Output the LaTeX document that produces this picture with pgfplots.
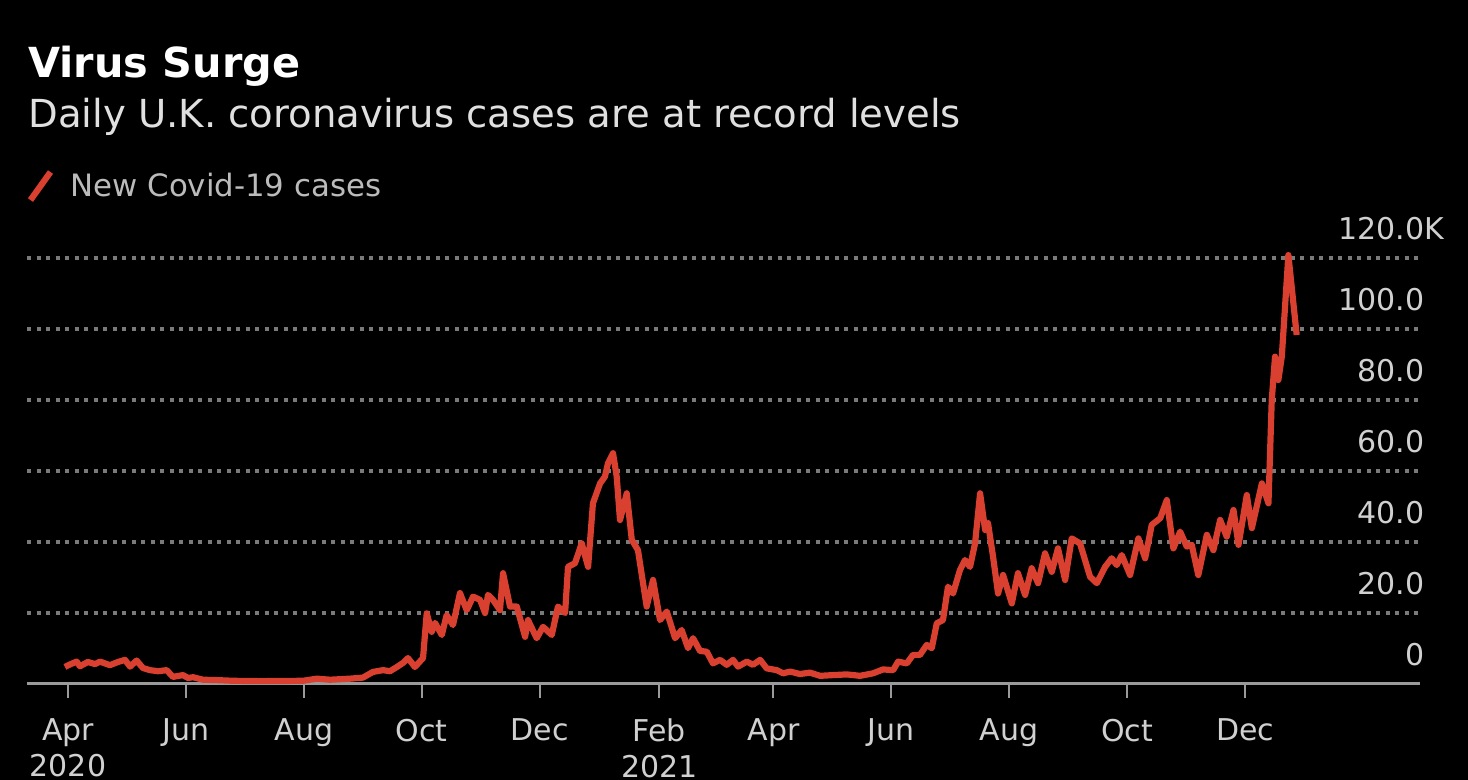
\documentclass[border=0pt]{standalone}
\usepackage{pgfplots}
\pgfplotsset{compat=1.18}
\usepackage{fontspec}
\setmainfont{DejaVu Sans}
\definecolor{cred}{HTML}{D9402F}
\definecolor{tick}{HTML}{D0D0D0}
\definecolor{grid}{HTML}{7A7A7A}
\definecolor{axl}{HTML}{9A9A9A}
\begin{document}
\begin{tikzpicture}
\useasboundingbox (0,0) rectangle (734pt,390pt);
\fill[black] (0,0) rectangle (734pt,390pt);
\node[anchor=base west, inner sep=0pt, text=white, font=\fontsize{20.7}{24}\selectfont\bfseries] at (14pt,351pt) {Virus Surge};
\node[anchor=base west, inner sep=0pt, text=white!88!black, font=\fontsize{19.3}{23}\selectfont] at (14pt,326pt) {Daily U.K. coronavirus cases are at record levels};
\begin{axis}[
  at={(13.5pt,48pt)}, anchor=south west,
  scale only axis, width=696.5pt, height=221.9pt,
  xmin=-21.2, xmax=699.5, ymin=0, ymax=125,
  axis x line*=bottom, axis y line*=right,
  y axis line style={draw=none},
  x axis line style={draw=axl, line width=1.5pt},
  xtick={0,61,122,183,244,306,365,426,487,548,609},
  xticklabels={{Apr\\2020},Jun,Aug,Oct,Dec,{Feb\\2021},Apr,Jun,Aug,Oct,Dec},
  xticklabel style={align=center, text=tick, font=\fontsize{15}{18}\selectfont, anchor=north, yshift=-7pt},
  tick align=outside, major tick length=7pt,
  xtick style={draw=axl, line width=1pt},
  ytick={20,40,60,80,100,120},
  yticklabels={20.0,40.0,60.0,80.0,100.0,120.0\rlap{K}},
  extra y ticks={0}, extra y tick labels={0},
  extra y tick style={grid=none},
  yticklabel style={anchor=south east, inner sep=0pt, text=tick, font=\fontsize{15}{18}\selectfont, yshift=9pt, xshift=-4.5pt},
  ytick style={draw=none},
  ymajorgrids, grid style={draw=grid, line width=1.6pt, dash pattern=on 2pt off 2.75pt},
  clip=false,
  legend style={at={(axis description cs:0,1.122)}, anchor=west, draw=none, fill=none, inner sep=0pt, text=tick!90!black, font=\fontsize{15.4}{18}\selectfont, /tikz/every odd column/.style={column sep=6.5pt}},
  legend image code/.code={\draw[#1] (0pt,-7pt) -- (10pt,7pt);},
]
\addplot[cred, line width=3.1pt, line join=round] table {
x y
-1.6 4.8
1.0 5.5
4.5 6.3
6.2 5.0
10.3 6.2
14.0 5.6
16.6 6.3
21.7 5.3
25.9 6.2
29.5 6.8
32.1 4.9
35.5 6.6
38.8 4.5
42.4 3.9
46.6 3.6
51.1 3.9
54.3 2.0
59.5 2.5
62.1 1.7
64.7 1.9
69.9 1.2
77.0 1.1
85.4 0.9
100.0 0.8
121.6 0.9
128.8 1.5
135.6 1.2
145.9 1.5
152.6 1.8
157.8 3.4
163.0 3.9
166.6 3.6
170.2 4.8
173.5 6.0
175.9 7.3
179.5 4.8
183.7 7.3
185.6 19.9
188.2 14.7
189.9 17.2
193.4 13.8
195.9 19.4
199.2 16.6
202.8 25.6
206.3 20.8
209.6 24.6
213.2 23.7
215.8 20.0
217.3 25.1
219.9 23.7
223.5 20.8
225.1 31.2
228.7 21.8
232.2 21.8
236.5 13.3
238.0 18.0
242.5 12.9
245.8 16.1
250.3 13.8
253.5 21.8
257.2 20.0
258.7 33.0
262.3 34.0
265.8 39.6
269.1 33.0
271.6 50.9
275.3 56.5
277.8 58.4
279.4 62.2
282.0 65.0
283.9 58.4
285.6 46.2
289.1 53.7
291.7 40.6
294.9 37.7
299.4 21.8
302.7 29.3
306.3 18.0
309.8 20.4
314.1 12.9
317.5 15.2
320.8 10.1
323.4 12.9
327.0 9.3
330.5 9.1
333.7 5.8
337.4 6.8
340.8 5.4
344.1 6.8
346.7 4.9
351.2 6.3
354.4 5.4
358.1 6.8
361.5 4.4
366.7 3.9
370.0 3.0
373.6 3.5
378.7 2.8
383.9 3.2
389.1 2.3
395.8 2.5
402.9 2.7
409.8 2.3
416.5 3.0
421.7 4.1
426.9 3.9
429.5 6.3
434.0 5.8
437.2 8.2
440.8 8.2
444.3 11.0
446.9 10.1
449.5 17.1
452.7 18.0
455.3 27.4
457.9 25.5
461.5 32.1
464.1 34.9
466.7 33.0
469.3 39.6
471.9 53.7
474.5 43.4
476.0 45.3
478.6 35.9
481.2 25.5
483.8 30.7
488.3 22.7
491.5 31.2
495.2 25.1
498.6 32.6
501.9 28.4
505.5 36.8
509.0 31.6
512.2 38.2
515.9 29.3
519.3 41.0
523.6 39.6
528.8 30.2
532.3 28.4
536.6 33.0
540.0 35.4
542.6 33.5
545.2 36.3
549.5 30.7
553.8 41.0
557.3 35.4
560.7 44.8
565.1 46.7
568.5 51.8
571.9 38.2
575.4 42.9
578.8 38.7
581.4 39.2
584.8 30.7
589.2 42.0
592.6 37.7
596.1 46.2
599.5 41.5
603.0 49.0
605.6 39.2
609.9 53.2
612.5 43.9
617.7 56.5
621.1 50.9
622.8 80.0
624.5 92.2
626.2 85.6
628.0 92.2
631.4 120.8
635.7 98.3
};
\addlegendentry{New Covid-19 cases}
\end{axis}
\end{tikzpicture}
\end{document}
